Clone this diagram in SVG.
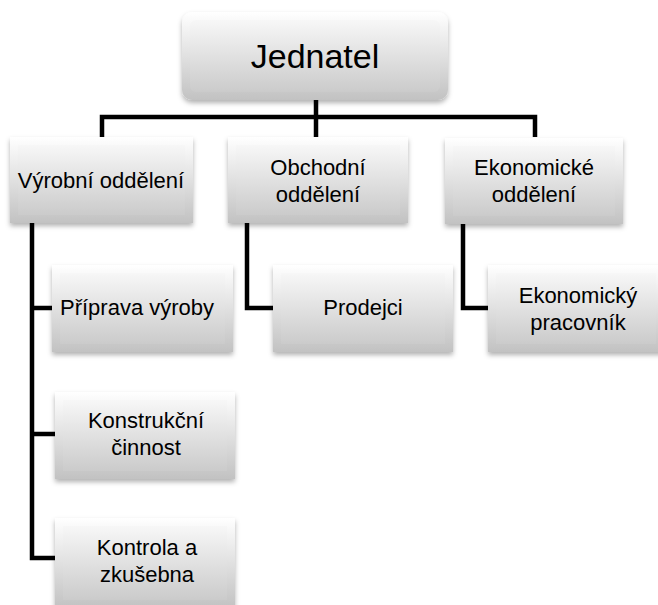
<svg xmlns="http://www.w3.org/2000/svg" width="658" height="605" viewBox="0 0 658 605">
<style>
.face{fill:url(#gOuter)}
.inner{fill:url(#gInner)}
.t{font-family:"Liberation Sans",Arial,sans-serif;font-size:22px;fill:#000;text-anchor:middle}
.big{font-size:34px}
.conn{fill:none;stroke:#000;stroke-width:4.5;stroke-linejoin:miter}
</style>
<defs>
<linearGradient id="gOuter" x1="0" y1="0" x2="0" y2="1">
<stop offset="0" stop-color="#ffffff"/>
<stop offset="1" stop-color="#c2c2c2"/>
</linearGradient>
<linearGradient id="gInner" x1="0" y1="0" x2="0" y2="1">
<stop offset="0" stop-color="#f7f7f7"/>
<stop offset="1" stop-color="#cbcbcb"/>
</linearGradient>
<filter id="sh" x="-10%" y="-10%" width="120%" height="130%">
<feDropShadow dx="0" dy="3" stdDeviation="2.5" flood-color="#000" flood-opacity="0.3"/>
</filter>
</defs>
<g id="connectors">
<path class="conn" d="M316 100 V137"/>
<path class="conn" d="M102 137 V117 H535 V137"/>
<path class="conn" d="M32 223 V558 H55 M32 308 H52 M32 434 H55"/>
<path class="conn" d="M247 223 V308 H273"/>
<path class="conn" d="M463 224 V308 H488"/>
</g>
<g id="jednatel">
<rect class="face" x="182" y="12" width="266" height="88" rx="10" filter="url(#sh)"/>
<rect class="inner" x="190" y="20" width="250" height="72" rx="6"/>
<text class="t big" x="315" y="68">Jednatel</text>
</g>
<g id="vyrobni">
<rect class="face" x="10" y="137" width="183" height="86" filter="url(#sh)"/>
<rect class="inner" x="18" y="145" width="167" height="70"/>
<text class="t" x="101" y="188">Výrobní oddělení</text>
</g>
<g id="obchodni">
<rect class="face" x="228" y="137" width="180" height="86" filter="url(#sh)"/>
<rect class="inner" x="236" y="145" width="164" height="70"/>
<text class="t" x="318" y="175">Obchodní</text>
<text class="t" x="318" y="202">oddělení</text>
</g>
<g id="ekonomicke">
<rect class="face" x="445" y="138" width="178" height="86" filter="url(#sh)"/>
<rect class="inner" x="453" y="146" width="162" height="70"/>
<text class="t" x="534" y="175">Ekonomické</text>
<text class="t" x="534" y="202">oddělení</text>
</g>
<g id="priprava">
<rect class="face" x="52" y="265" width="181" height="87" filter="url(#sh)"/>
<rect class="inner" x="60" y="273" width="165" height="71"/>
<text class="t" x="137" y="315">Příprava výroby</text>
</g>
<g id="prodejci">
<rect class="face" x="273" y="265" width="180" height="87" filter="url(#sh)"/>
<rect class="inner" x="281" y="273" width="164" height="71"/>
<text class="t" x="363" y="315">Prodejci</text>
</g>
<g id="ekpracovnik">
<rect class="face" x="488" y="265" width="176" height="87" filter="url(#sh)"/>
<rect class="inner" x="496" y="273" width="160" height="71"/>
<text class="t" x="578" y="303">Ekonomický</text>
<text class="t" x="578" y="330">pracovník</text>
</g>
<g id="konstrukcni">
<rect class="face" x="55" y="392" width="180" height="87" filter="url(#sh)"/>
<rect class="inner" x="63" y="400" width="164" height="71"/>
<text class="t" x="146" y="428">Konstrukční</text>
<text class="t" x="146" y="455">činnost</text>
</g>
<g id="kontrola">
<rect class="face" x="55" y="518" width="180" height="90" filter="url(#sh)"/>
<rect class="inner" x="63" y="526" width="164" height="74"/>
<text class="t" x="147" y="555">Kontrola a</text>
<text class="t" x="147" y="582">zkušebna</text>
</g>
</svg>
